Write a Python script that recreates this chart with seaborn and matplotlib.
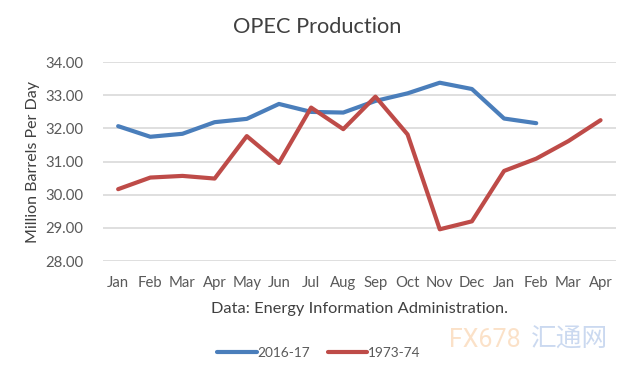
import matplotlib
matplotlib.use("Agg")
import matplotlib.pyplot as plt
import seaborn as sns
import pandas as pd
from matplotlib.lines import Line2D

months = ["Jan", "Feb", "Mar", "Apr", "May", "Jun", "Jul", "Aug",
          "Sep", "Oct", "Nov", "Dec", "Jan", "Feb", "Mar", "Apr"]
prod_2016_17 = [32.07, 31.75, 31.84, 32.19, 32.29, 32.74, 32.50, 32.48,
                32.83, 33.06, 33.38, 33.19, 32.30, 32.16]
prod_1973_74 = [30.17, 30.52, 30.57, 30.49, 31.77, 30.96, 32.63, 31.98,
                32.96, 31.82, 28.96, 29.20, 30.72, 31.09, 31.62, 32.25]
yticks = [28, 29, 30, 31, 32, 33, 34]

sns.set_theme(style="white")
plt.rcParams["font.family"] = ["Lato", "DejaVu Sans"]

df = pd.concat([
    pd.DataFrame({"pos": range(len(prod_2016_17)), "value": prod_2016_17, "series": "2016-17"}),
    pd.DataFrame({"pos": range(len(prod_1973_74)), "value": prod_1973_74, "series": "1973-74"}),
])
colors = {"2016-17": "#4A7EBB", "1973-74": "#BE4B48"}

fig = plt.figure(figsize=(6.29, 3.79), dpi=100)
ax = fig.add_axes([0.1638, 0.311, 0.815, 0.525])

sns.lineplot(data=df, x="pos", y="value", hue="series", palette=colors,
             linewidth=3, ax=ax, legend=False, sort=False)

ax.set_xlim(-0.47, 15.47)
ax.set_ylim(28, 34)
ax.set_yticks(yticks)
ax.set_yticklabels([f"{v:.2f}" for v in yticks])
ax.set_xticks(range(len(months)))
ax.set_xticklabels(months)
ax.yaxis.grid(True, color="#D9D9D9", linewidth=1.2)
ax.set_axisbelow(True)
for s in ax.spines.values():
    s.set_visible(False)
ax.tick_params(axis="both", length=0, labelsize=10.7, colors="#595959")
ax.tick_params(axis="y", pad=14)
ax.tick_params(axis="x", pad=11)

ax.set_ylabel("Million Barrels Per Day", fontsize=11.5, color="#404040", labelpad=4)
ax.set_xlabel("Data: Energy Information Administration.", fontsize=11.8,
              color="#404040", labelpad=8)
fig.text(0.505, 0.929, "OPEC Production", ha="center", va="center",
         fontsize=15.7, color="#404040")

# legend below
handles = [Line2D([], [], color=colors[k], lw=3) for k in colors]
fig.legend(handles, list(colors), loc="center", bbox_to_anchor=(0.507, 0.069),
           ncol=2, frameon=False, fontsize=9.8, handlelength=2.9, handletextpad=0.05,
           columnspacing=1.3, labelcolor="#595959")

# faint watermark
fig.text(0.771, 0.103, "FX678", fontsize=18, color="#F7BE86", alpha=0.45,
         ha="center", va="center", family=["Roboto", "DejaVu Sans"])
fig.text(0.906, 0.103, "汇通网", fontsize=18.5, color="#7FA2DA", alpha=0.4,
         ha="center", va="center", family=["Noto Sans CJK SC", "DejaVu Sans"])

fig.savefig("out.png", dpi=100, facecolor="white")
